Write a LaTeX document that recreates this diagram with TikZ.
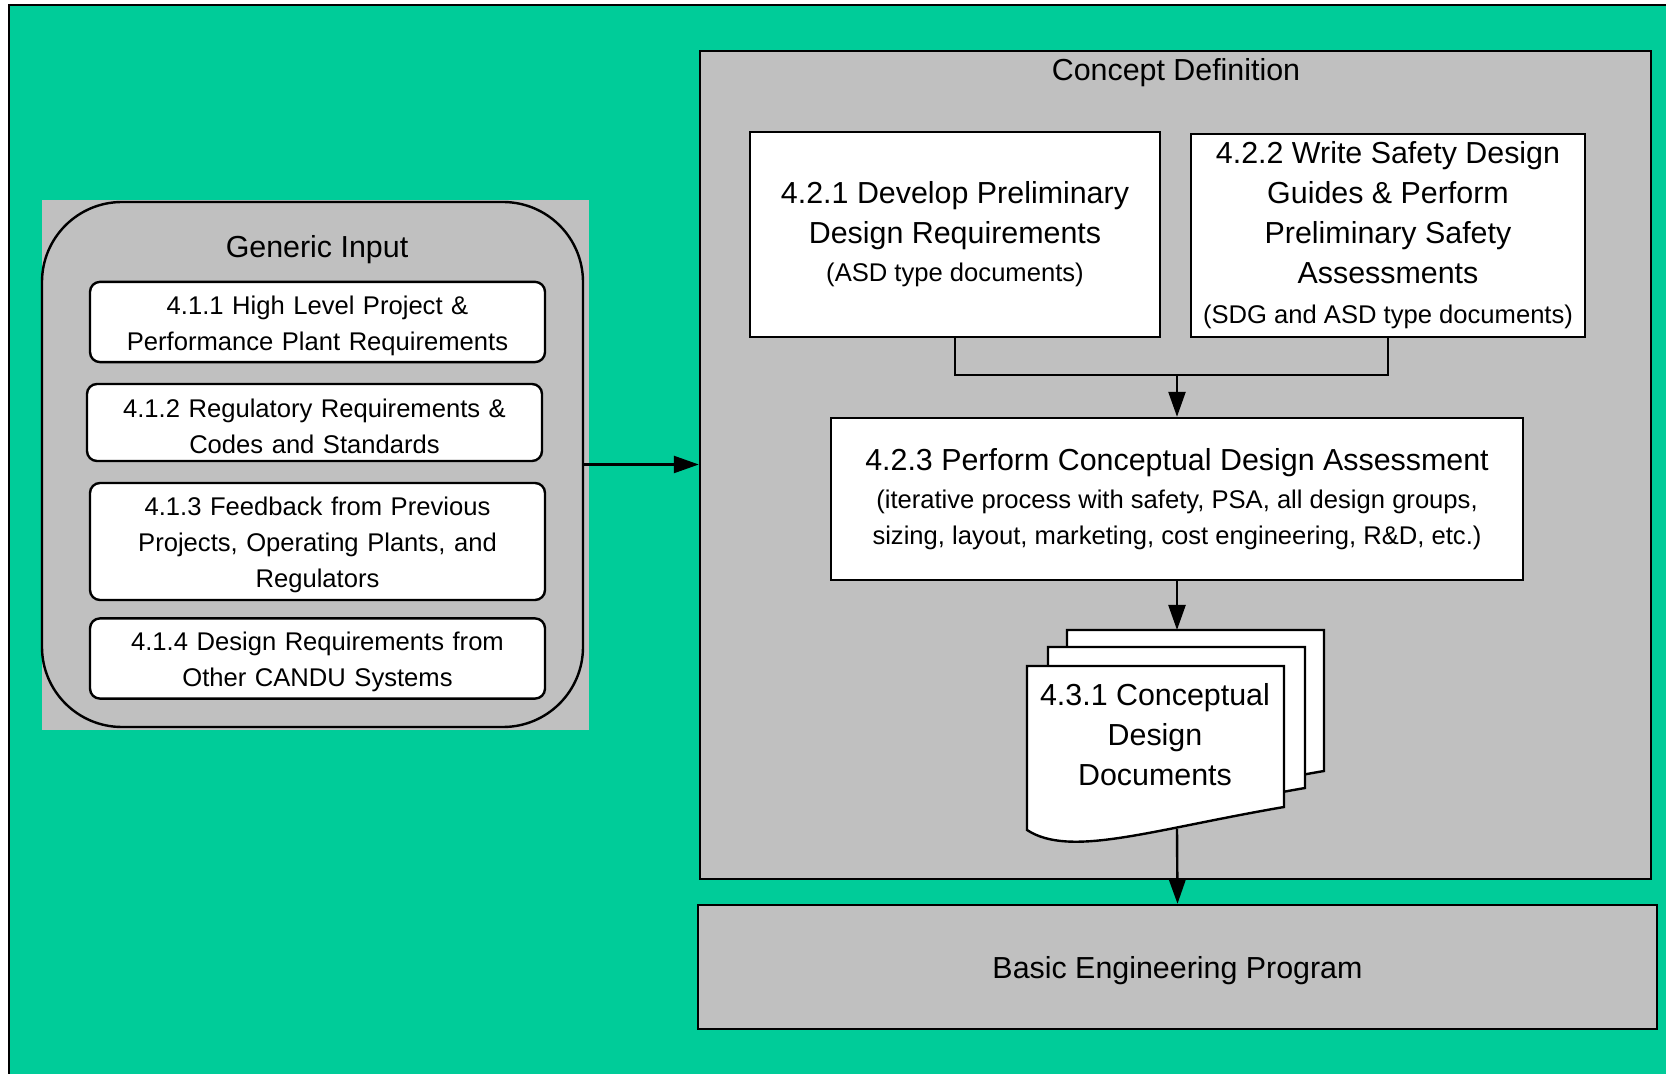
\documentclass[tikz,border=0pt]{standalone}
\usepackage{fontspec}
\setmainfont{Liberation Sans}
\usetikzlibrary{arrows.meta}
\definecolor{bggreen}{RGB}{0,204,153}
\definecolor{panelgray}{RGB}{192,192,192}
\newcommand{\bigtxt}{\fontsize{15.2}{20}\selectfont}
\newcommand{\smalltxt}{\fontsize{12.8}{18}\selectfont}
\tikzset{
  panel/.style={draw,line width=1.2pt,fill=panelgray},
  taskbox/.style={draw,line width=1.2pt,fill=white,align=center,font=\bigtxt},
  inbox/.style={draw,line width=1.2pt,fill=white,align=center,rounded corners=5pt,font=\smalltxt,
    minimum width=227.5pt,text width=218pt,execute at begin node={\rule{0pt}{12.8pt}}},
  flow/.style={line width=1.2pt,-{Triangle[length=12.5pt,width=8.5pt]}}
}
\begin{document}
\begin{tikzpicture}[x=0.5pt,y=-0.5pt]
\useasboundingbox (0,0) rectangle (1666,1074);
\fill[bggreen] (9,5) rectangle (1666,1074);
\draw[line width=1.2pt] (9,1074) -- (9,5) -- (1666,5);

% generic input
\fill[panelgray] (42,200) rectangle (589,730);
\node[draw,line width=1.2pt,rounded corners=40pt,minimum width=270.5pt,minimum height=262.5pt] (generic) at (312.5,464.5) {};
\node[font=\bigtxt] (gentitle) at (317,250) {Generic Input};
\node[inbox,minimum height=39pt] (in1) at (317.5,322) {4.1.1 High Level Project \&\\Performance Plant Requirements};
\node[inbox,minimum height=38.5pt] (in2) at (314.5,422.5) {4.1.2 Regulatory Requirements \&\\Codes and Standards};
\node[inbox,minimum height=58.5pt] (in3) at (317.5,541.5) {4.1.3 Feedback from Previous\\Projects, Operating Plants, and\\Regulators};
\node[inbox,minimum height=39.5pt] (in4) at (317.5,658.5) {4.1.4 Design Requirements from\\Other CANDU Systems};

% concept definition
\node[panel,minimum width=475.5pt,minimum height=414pt] (concept) at (1175.5,465) {};
\node[font=\bigtxt] (contitle) at (1176,73) {Concept Definition};
\node[taskbox,minimum width=205pt,minimum height=102.5pt] (a21) at (955,234.5)
  {4.2.1 Develop Preliminary\\Design Requirements\\[-1pt]{\smalltxt (ASD type documents)}};
\node[taskbox,minimum width=197pt,minimum height=101.5pt] (a22) at (1388,235.5)
  {4.2.2 Write Safety Design\\Guides \& Perform\\Preliminary Safety\\Assessments\\{\smalltxt (SDG and ASD type documents)}};
\node[taskbox,minimum width=346pt,minimum height=81pt] (a23) at (1177,499)
  {4.2.3 Perform Conceptual Design Assessment\\[-1pt]{\smalltxt (iterative process with safety, PSA, all design groups,}\\[-2pt]{\smalltxt sizing, layout, marketing, cost engineering, R\&D, etc.)}};

% documents
\foreach \dx/\dy in {40/-36,21/-19,0/0}
  \draw[line width=1.2pt,fill=white,shift={(\dx,\dy)}] (1027,830) -- (1027,666) -- (1284,666) -- (1284,807)
    .. controls (1150,830) and (1070,858) .. (1027,830) -- cycle;
\node[font=\bigtxt,align=center] (doc) at (1155,735) {4.3.1 Conceptual\\Design\\Documents};
\coordinate (doctop) at (1177,630);
\coordinate (docbot) at (1177,829);

% basic engineering
\node[panel,minimum width=479.5pt,minimum height=62pt,font=\bigtxt,text depth=0pt] (basic) at (1177.5,967) {Basic Engineering Program};

% connectors
\coordinate (merge) at (1177,375);
\draw[line width=1.2pt] (a21.south) |- (merge) -| (a22.south);
\draw[flow] (merge) -- (a23.north);
\draw[flow] (a23.south) -- (doctop);
\draw[flow] (docbot) -- (basic.north);
\draw[flow] (generic.east) -- (generic.east -| concept.west);
\end{tikzpicture}
\end{document}
